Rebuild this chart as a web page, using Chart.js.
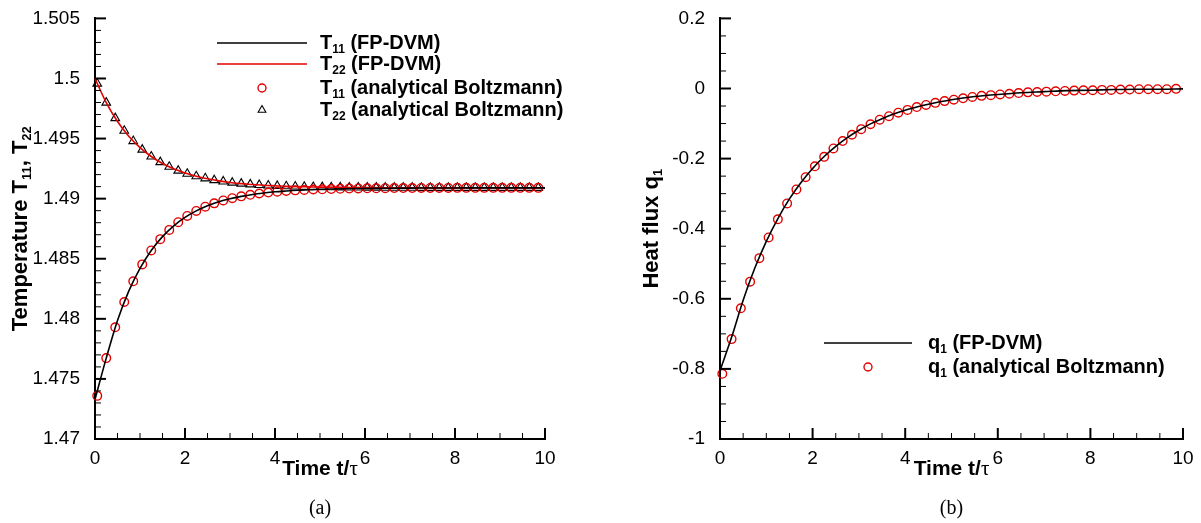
<!DOCTYPE html>
<html>
<head>
<meta charset="utf-8">
<script src="https://cdn.jsdelivr.net/npm/chart.js@4.4.1/dist/chart.umd.min.js"></script>
<style>
  html, body { margin: 0; padding: 0; background: #fff; }
  #wrap { position: relative; width: 1201px; height: 523px; }
  #left  { position: absolute; left: 0; top: 0; }
  #right { position: absolute; left: 600px; top: 0; }
</style>
</head>
<body>
<div id="wrap">
  <canvas id="left" width="600" height="523"></canvas>
  <canvas id="right" width="601" height="523"></canvas>
</div>
<script>
// ----- Data -----
const markerTime = [0.05,0.25,0.45,0.65,0.85,1.05,1.25,1.45,1.65,1.85,2.05,2.25,2.45,2.65,2.85,3.05,3.25,3.45,3.65,3.85,
  4.05,4.25,4.45,4.65,4.85,5.05,5.25,5.45,5.65,5.85,6.05,6.25,6.45,6.65,6.85,7.05,7.25,7.45,7.65,7.85,
  8.05,8.25,8.45,8.65,8.85,9.05,9.25,9.45,9.65,9.85];

const t11Markers = [1.47359,1.47673,1.47930,1.48140,1.48312,1.48453,1.48569,1.48663,1.48740,1.48804,
  1.48856,1.48898,1.48933,1.48961,1.48985,1.49004,1.49019,1.49032,1.49043,1.49051,
  1.49058,1.49064,1.49069,1.49073,1.49076,1.49078,1.49080,1.49082,1.49084,1.49085,
  1.49086,1.49086,1.49087,1.49088,1.49088,1.49088,1.49089,1.49089,1.49089,1.49089,
  1.4909,1.4909,1.4909,1.4909,1.4909,1.4909,1.4909,1.4909,1.4909,1.4909];

const t22Markers = [1.49957,1.49799,1.49670,1.49565,1.49479,1.49408,1.49351,1.49304,1.49265,1.49233,
  1.49207,1.49186,1.49169,1.49154,1.49143,1.49133,1.49125,1.49119,1.49114,1.49109,
  1.49106,1.49103,1.49101,1.49099,1.49097,1.49096,1.49095,1.49094,1.49093,1.49093,
  1.49092,1.49092,1.49091,1.49091,1.49091,1.49091,1.4909,1.4909,1.4909,1.4909,
  1.4909,1.4909,1.4909,1.4909,1.4909,1.4909,1.4909,1.4909,1.4909,1.4909];

const q1Markers = [-0.814,-0.715,-0.627,-0.551,-0.484,-0.425,-0.373,-0.328,-0.288,-0.253,
  -0.222,-0.195,-0.171,-0.150,-0.132,-0.116,-0.102,-0.089,-0.079,-0.069,
  -0.061,-0.053,-0.047,-0.041,-0.036,-0.032,-0.028,-0.024,-0.021,-0.019,
  -0.017,-0.015,-0.013,-0.011,-0.010,-0.009,-0.008,-0.007,-0.006,-0.005,
  -0.005,-0.004,-0.004,-0.003,-0.003,-0.002,-0.002,-0.002,-0.002,-0.001];

const lineTime = [0,0.25,0.5,0.75,1,1.25,1.5,1.75,2,2.25,2.5,2.75,3,3.25,3.5,3.75,4,4.25,4.5,4.75,5,
  5.5,6,6.5,7,7.5,8,8.5,9,9.5,10];

const t11Line = [1.4733,1.47673,1.47986,1.48230,1.48420,1.48569,1.48684,1.48774,1.48844,1.48898,1.48941,
  1.48974,1.48999,1.49019,1.49035,1.49047,1.49057,1.49064,1.49070,1.49074,1.49078,
  1.49083,1.49085,1.49087,1.49088,1.49089,1.49089,1.4909,1.4909,1.4909,1.4909];

const t22Line = [1.5,1.49799,1.49642,1.49520,1.49425,1.49351,1.49293,1.49248,1.49213,1.49186,1.49165,
  1.49148,1.49135,1.49125,1.49118,1.49111,1.49107,1.49103,1.49100,1.49098,1.49096,
  1.49094,1.49092,1.49091,1.49091,1.4909,1.4909,1.4909,1.4909,1.4909,1.4909];

const q1Line = [-0.805,-0.710,-0.604,-0.513,-0.436,-0.371,-0.315,-0.268,-0.228,-0.194,-0.165,
  -0.140,-0.119,-0.101,-0.086,-0.073,-0.062,-0.053,-0.045,-0.038,-0.032,
  -0.023,-0.017,-0.012,-0.009,-0.006,-0.005,-0.003,-0.002,-0.002,-0.001];

const timeTicks = [0, 2, 4, 6, 8, 10];
const tempTicks = [1.47, 1.475, 1.48, 1.485, 1.49, 1.495, 1.5, 1.505];
const fluxTicks = [-1, -0.8, -0.6, -0.4, -0.2, 0, 0.2];

// ----- Styles -----
const RED  = 'rgb(226,0,0)';
const SANS = '"Liberation Sans", Arial, Helvetica, sans-serif';
const SERIF = '"Liberation Serif", "DejaVu Serif", serif';
const bold = px => `bold ${px}px ${SANS}`;

const pts = (xs, ys) => xs.map((x, i) => ({ x, y: ys[i] }));

// text made of pieces: [text, font, dy]
function drawPieces(ctx, pieces, x, y, align) {
  let w = 0;
  pieces.forEach(p => { ctx.font = p[1]; w += ctx.measureText(p[0]).width; });
  let cx = align === 'center' ? x - w / 2 : x;
  ctx.textAlign = 'left';
  ctx.textBaseline = 'alphabetic';
  pieces.forEach(p => {
    ctx.font = p[1];
    ctx.fillText(p[0], cx, y + (p[2] || 0));
    cx += ctx.measureText(p[0]).width;
  });
}

function drawMarker(ctx, kind, x, y) {
  ctx.beginPath();
  if (kind === 'circle') {
    ctx.strokeStyle = RED; ctx.lineWidth = 1.4;
    ctx.arc(x, y, 4, 0, Math.PI * 2);
  } else {
    ctx.strokeStyle = '#000'; ctx.lineWidth = 1.1;
    ctx.moveTo(x, y - 4.5); ctx.lineTo(x + 3.9, y + 2.3); ctx.lineTo(x - 3.9, y + 2.3); ctx.closePath();
  }
  ctx.stroke();
}

// ----- Inward major/minor ticks -----
const axisTicks = {
  id: 'axisTicks',
  afterDraw(chart, args, o) {
    const { ctx, chartArea: a, scales } = chart;
    ctx.save();
    ctx.strokeStyle = '#000';
    const drawX = (v, len, lw) => {
      const p = scales.x.getPixelForValue(v);
      ctx.lineWidth = lw; ctx.beginPath(); ctx.moveTo(p, a.bottom); ctx.lineTo(p, a.bottom - len); ctx.stroke();
    };
    const drawY = (v, len, lw) => {
      const p = scales.y.getPixelForValue(v);
      ctx.lineWidth = lw; ctx.beginPath(); ctx.moveTo(a.left, p); ctx.lineTo(a.left + len, p); ctx.stroke();
    };
    for (let i = 0; i <= o.xCount; i++) {
      const v = scales.x.min + i * o.xMinor;
      if (i % o.xEvery) drawX(v, 6, 1); else drawX(v, 11, 2);
    }
    for (let i = 0; i <= o.yCount; i++) {
      const v = scales.y.min + i * o.yMinor;
      if (i % o.yEvery) drawY(v, 6, 1); else drawY(v, 11, 2);
    }
    ctx.restore();
  }
};

// ----- Titles, legend and caption -----
const deco = {
  id: 'deco',
  afterDraw(chart, args, o) {
    const { ctx, chartArea: a } = chart;
    const cx = (a.left + a.right) / 2;
    ctx.save();
    ctx.fillStyle = '#000';

    // x title
    drawPieces(ctx, [['Time t/', bold(21)], ['\u03c4', `21px ${SERIF}`]], cx, 475, 'center');

    // y title (rotated)
    ctx.save();
    ctx.translate(o.yTitleX, (a.top + a.bottom) / 2);
    ctx.rotate(-Math.PI / 2);
    drawPieces(ctx, o.yTitle, 0, 0, 'center');
    ctx.restore();

    // caption
    ctx.font = `20px ${SERIF}`;
    ctx.textAlign = 'center';
    ctx.textBaseline = 'alphabetic';
    ctx.fillText(o.caption, cx, 514);

    // legend
    o.legend.forEach(r => {
      if (r.kind === 'line') {
        ctx.strokeStyle = r.color; ctx.lineWidth = 1.6;
        ctx.beginPath(); ctx.moveTo(o.lx0, r.y); ctx.lineTo(o.lx1, r.y); ctx.stroke();
      } else {
        drawMarker(ctx, r.kind, (o.lx0 + o.lx1) / 2, r.y);
      }
      ctx.fillStyle = '#000';
      drawPieces(ctx, r.text, o.tx, r.y + 6, 'left');
    });
    ctx.restore();
  }
};

const M = s => [s, bold(20)];
const S = s => [s, bold(12), 4];
const MT = s => [s, bold(22)];
const ST = s => [s, bold(13), 4];

function baseOptions(yTicks, yMin, yMax, yWidth, padRight) {
  return {
    responsive: false,
    animation: false,
    layout: { padding: { left: 0, right: padRight, top: 17, bottom: 0 } },
    plugins: { legend: { display: false }, tooltip: { enabled: false } },
    scales: {
      x: {
        type: 'linear', min: 0, max: 10,
        afterBuildTicks: s => { s.ticks = timeTicks.map(v => ({ value: v })); },
        afterFit: s => { s.height = 84; },
        grid: { display: false },
        border: { display: true, color: '#000', width: 2 },
        ticks: { color: '#000', font: { family: SANS, size: 19 }, padding: 0, maxRotation: 0, callback: v => String(v) }
      },
      y: {
        type: 'linear', min: yMin, max: yMax,
        afterBuildTicks: s => { s.ticks = yTicks.map(v => ({ value: v })); },
        afterFit: s => { s.width = yWidth; },
        grid: { display: false },
        border: { display: true, color: '#000', width: 2 },
        ticks: { color: '#000', font: { family: SANS, size: 19 }, padding: 7, callback: v => String(v) }
      }
    }
  };
}

// ----- Chart (a): temperatures -----
const optA = baseOptions(tempTicks, 1.47, 1.505, 95, 55);
optA.plugins.axisTicks = { xMinor: 0.5, xCount: 20, xEvery: 4, yMinor: 0.001, yCount: 35, yEvery: 5 };
optA.plugins.deco = {
  yTitleX: 27,
  yTitle: [MT('Temperature T'), ST('11'), MT(', T'), ST('22')],
  caption: '(a)',
  lx0: 217, lx1: 307, tx: 320,
  legend: [
    { kind: 'line', color: '#000', y: 43, text: [M('T'), S('11'), M(' (FP-DVM)')] },
    { kind: 'line', color: RED, y: 64, text: [M('T'), S('22'), M(' (FP-DVM)')] },
    { kind: 'circle', y: 88, text: [M('T'), S('11'), M(' (analytical Boltzmann)')] },
    { kind: 'triangle', y: 110, text: [M('T'), S('22'), M(' (analytical Boltzmann)')] }
  ]
};

new Chart(document.getElementById('left'), {
  type: 'scatter',
  data: {
    datasets: [
      { data: pts(lineTime, t11Line), showLine: true, borderColor: '#000', borderWidth: 1.6, pointRadius: 0, cubicInterpolationMode: 'monotone', clip: false },
      { data: pts(lineTime, t22Line), showLine: true, borderColor: RED, borderWidth: 1.6, pointRadius: 0, cubicInterpolationMode: 'monotone', clip: false },
      { data: pts(markerTime, t11Markers), pointStyle: 'circle', pointRadius: 4.3, pointBorderWidth: 1.4, pointBorderColor: RED, pointBackgroundColor: 'rgba(0,0,0,0)', clip: false },
      { data: pts(markerTime, t22Markers), pointStyle: 'triangle', pointRadius: 5, pointBorderWidth: 1.1, pointBorderColor: '#000', pointBackgroundColor: 'rgba(0,0,0,0)', clip: false }
    ]
  },
  options: optA,
  plugins: [axisTicks, deco]
});

// ----- Chart (b): heat flux -----
const optB = baseOptions(fluxTicks, -1, 0.2, 120, 18);
optB.plugins.axisTicks = { xMinor: 0.5, xCount: 20, xEvery: 4, yMinor: 0.05, yCount: 24, yEvery: 4 };
optB.plugins.deco = {
  yTitleX: 58,
  yTitle: [MT('Heat flux q'), ST('1')],
  caption: '(b)',
  lx0: 224, lx1: 312, tx: 328,
  legend: [
    { kind: 'line', color: '#000', y: 343, text: [M('q'), S('1'), M(' (FP-DVM)')] },
    { kind: 'circle', y: 367, text: [M('q'), S('1'), M(' (analytical Boltzmann)')] }
  ]
};

new Chart(document.getElementById('right'), {
  type: 'scatter',
  data: {
    datasets: [
      { data: pts(lineTime, q1Line), showLine: true, borderColor: '#000', borderWidth: 1.6, pointRadius: 0, cubicInterpolationMode: 'monotone', clip: false },
      { data: pts(markerTime, q1Markers), pointStyle: 'circle', pointRadius: 4.3, pointBorderWidth: 1.4, pointBorderColor: RED, pointBackgroundColor: 'rgba(0,0,0,0)', clip: false }
    ]
  },
  options: optB,
  plugins: [axisTicks, deco]
});
</script>
</body>
</html>
